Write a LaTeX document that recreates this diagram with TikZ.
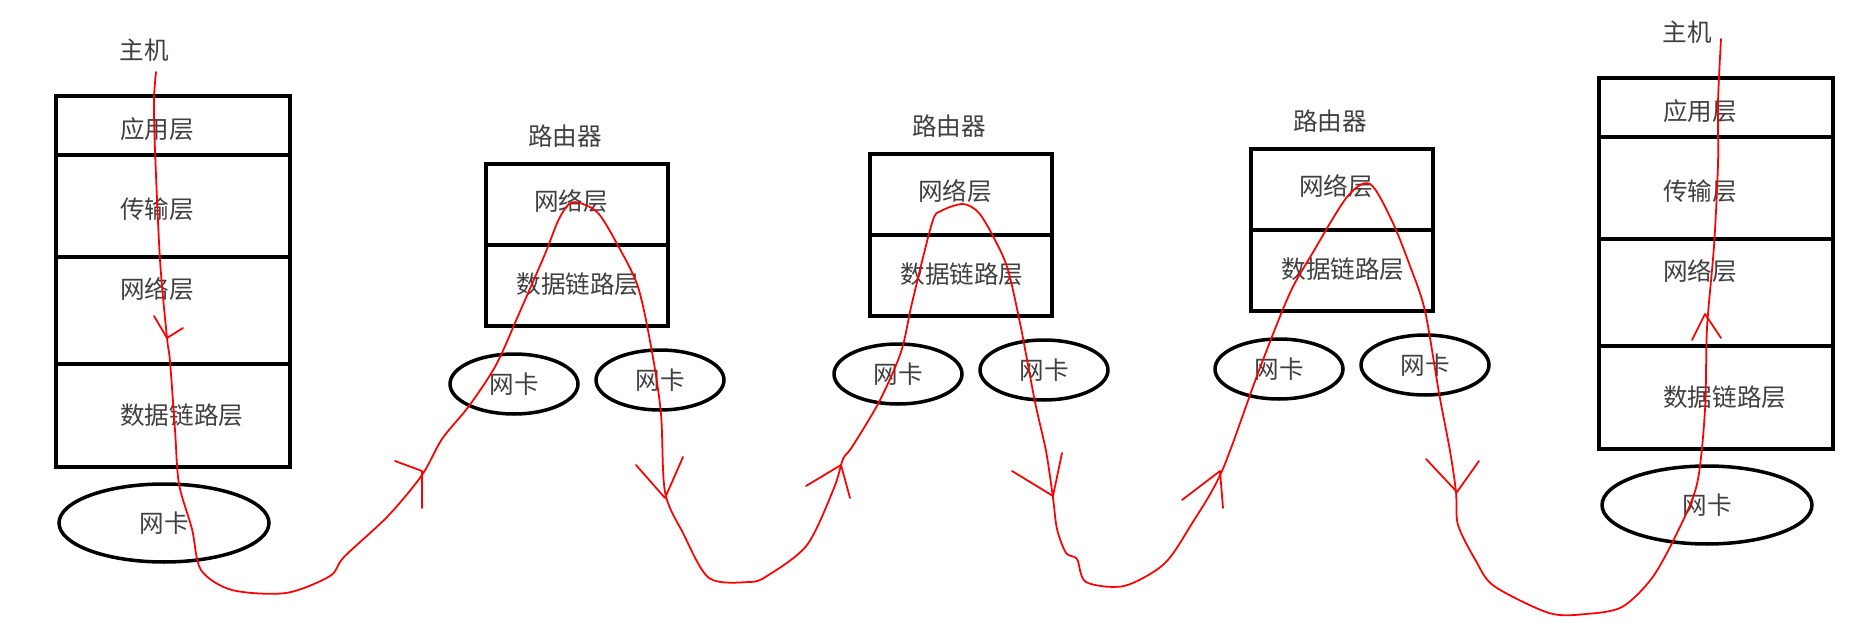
\documentclass[tikz,border=0pt]{standalone}
\usepackage{fontspec}
\usepackage{tikz}
\usetikzlibrary{shapes.geometric}
\newfontfamily\cjk{Noto Sans CJK SC}

\begin{document}
\begin{tikzpicture}[x=0.02cm,y=-0.02cm,
  every node/.style={font=\cjk\fontsize{14}{16}\selectfont,text=black!75,inner sep=0pt},
  layer/.style={draw=black,line width=2pt},
  hostnic/.style={ellipse,draw=black,line width=2pt,minimum width=4.2cm,minimum height=1.56cm},
  portnic/.style={ellipse,draw=black,line width=2pt,minimum width=2.56cm,minimum height=1.2cm},
  flow/.style={red,line width=1pt,line join=round,line cap=round}]
  \useasboundingbox (0,0) rectangle (1874,642);
  % ---- the two hosts: full protocol stack ----
  \foreach \n/\x/\y in {h1/56/96, h2/1599/78}{
    \begin{scope}[shift={(\x,\y)}]
      \draw[layer] (0,0) rectangle (234,371);
      \draw[layer] (0,59) -- (234,59) (0,161) -- (234,161) (0,268) -- (234,268);
      \node (\n-title) at (88,-46) {主机};
      \node[anchor=west] (\n-app) at (64,33) {应用层};
      \node[anchor=west] (\n-tra) at (64,113) {传输层};
      \node[anchor=west] (\n-net) at (64,193) {网络层};
      \node[anchor=west] (\n-link) at (64,319) {数据链路层};
      \node[hostnic] (\n-nic) at (108,427) {网卡};
    \end{scope}
  }
  % ---- the three routers: network + data link layer, two cards each ----
  \foreach \n/\x/\y in {r1/486/164, r2/870/154, r3/1251/149}{
    \begin{scope}[shift={(\x,\y)}]
      \draw[layer] (0,0) rectangle (182,162);
      \draw[layer] (0,81) -- (182,81);
      \node (\n-title) at (79,-28) {路由器};
      \node (\n-net) at (85,37) {网络层};
      \node (\n-link) at (92,120) {数据链路层};
      \node[portnic] (\n-nicl) at (28,220) {网卡};
      \node[portnic] (\n-nicr) at (174,216) {网卡};
    \end{scope}
  }
  % ---- the hand-drawn data path ----
  \draw[flow] plot[smooth,tension=0.5] coordinates {
    (156,72) (154,100) (155,150) (160,260) (167,338) (170,361) (175,430)
    (179,484) (192,529) (201,570) (232,590) (286,593) (330,576) (344,557)
    (388,516) (422,475) (442,439) (469,406) (496,365) (518,316) (545,254)
    (558,221) (569,204) (580,203) (598,213) (616,242) (638,287) (652,352)
    (661,414) (665,492) (683,533) (709,578) (749,582) (767,576) (807,545)
    (834,488) (843,459) (852,447) (879,402) (901,352) (912,303) (932,223)
    (941,211) (963,204) (979,213) (995,240) (1008,270) (1021,328) (1035,402)
    (1046,451) (1053,498) (1057,529) (1066,553) (1077,559) (1086,582)
    (1124,586) (1164,564) (1191,525) (1222,471) (1258,373) (1289,295)
    (1312,254) (1347,197) (1370,184) (1392,221) (1410,266) (1425,311)
    (1439,393) (1450,451) (1456,492) (1458,525) (1476,561) (1494,586)
    (1549,613) (1586,614) (1622,607) (1652,578) (1677,533) (1697,484)
    (1705,410) (1707,328) (1714,246) (1718,164) (1718,102) (1721,39)};
  % arrow marks along the path
  \draw[flow] (154,316) -- (167,338) -- (183,328);
  \draw[flow] (395,461) -- (422,471) -- (422,508);
  \draw[flow] (636,465) -- (665,498) -- (683,457);
  \draw[flow] (806,486) -- (841,465) -- (850,498);
  \draw[flow] (1012,471) -- (1053,496) -- (1062,453);
  \draw[flow] (1182,500) -- (1220,471) -- (1223,508);
  \draw[flow] (1426,459) -- (1457,492) -- (1479,461);
  \draw[flow] (1692,340) -- (1705,314) -- (1721,338);
\end{tikzpicture}
\end{document}
